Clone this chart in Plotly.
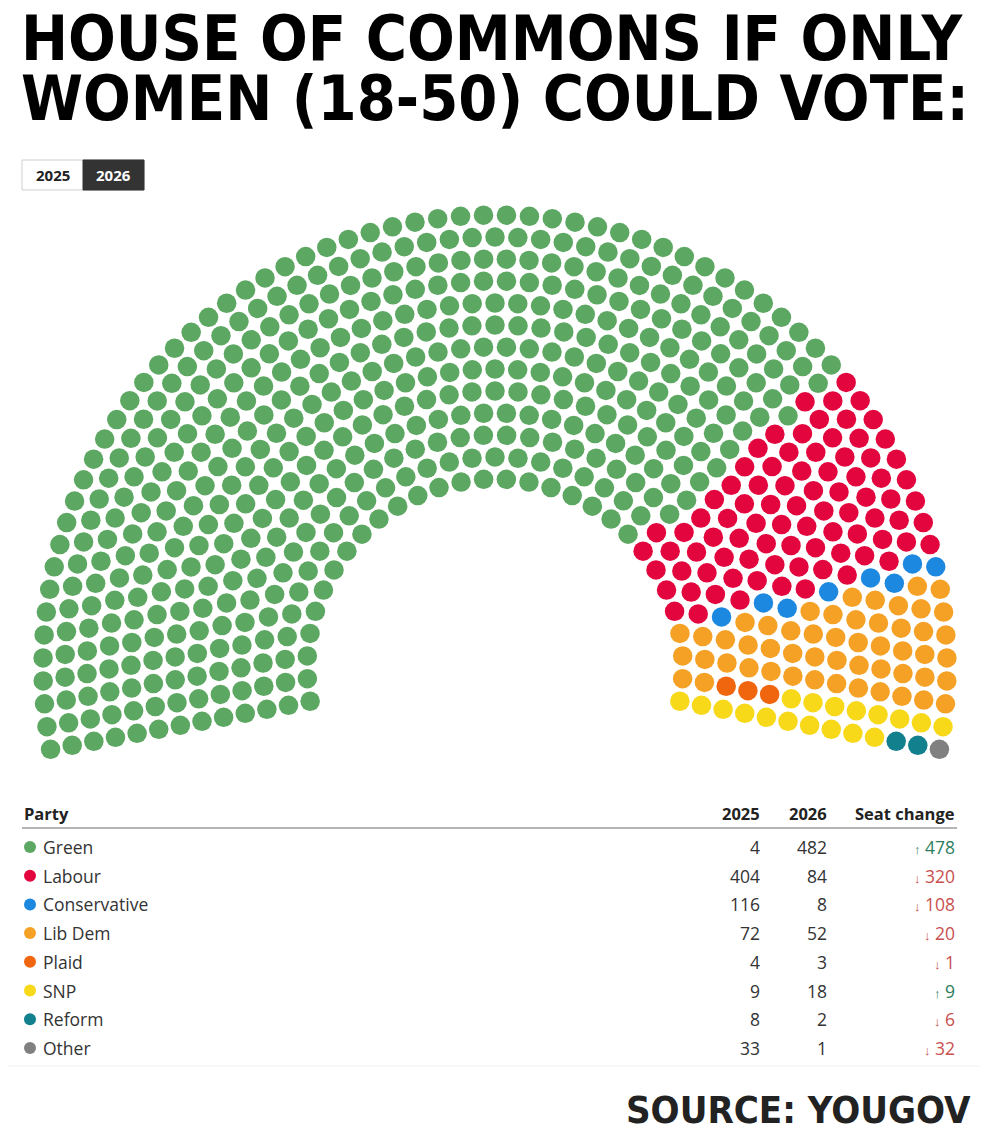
import math
import plotly.graph_objects as go

# party data (2026 drives the hemicycle)
parties = ['Green', 'Labour', 'Conservative', 'Lib Dem', 'Plaid', 'SNP', 'Reform', 'Other']
seats_2025 = [4, 404, 116, 72, 4, 9, 8, 33]
seats_2026 = [482, 84, 8, 52, 3, 18, 2, 1]
colors = ['#5ca762', '#e3053d', '#1c88e0', '#f5a126', '#f0660f', '#f7d91a', '#13808d', '#808080']
year_buttons = ['2025', '2026']

W, H = 989, 1148
OFF = 8  # page body margin

# hemicycle geometry (pixel space)
cx, cy = 495, 667
r_in, r_out, n_rows = 188, 452, 13
a_start, a_end = -10.5, 190.5


def hemicycle(total):
    radii = [r_in + i * (r_out - r_in) / (n_rows - 1) for i in range(n_rows)]
    s = sum(radii)
    counts = [round(total * r / s) for r in radii]
    counts[-1] -= 1
    counts[0] += total - sum(counts)
    seats = []
    for r, n in zip(radii, counts):
        step = (a_end - a_start) / (n - 1)
        for j in range(n):
            seats.append((a_start + j * step, r))
    seats.sort(key=lambda t: (t[0], -t[1]))
    return seats


seats = hemicycle(sum(seats_2026))

# fill from the right-hand end of the arc: Other first, Green last
xs, ys, cols = [], [], []
k = 0
for p in reversed(range(len(parties))):
    for _ in range(seats_2026[p]):
        a, r = seats[k]
        xs.append(cx + r * math.cos(math.radians(a)))
        ys.append(cy - r * math.sin(math.radians(a)))
        cols.append(colors[p])
        k += 1

fig = go.Figure()
fig.add_trace(go.Scatter(x=xs, y=ys, mode='markers', hoverinfo='skip',
                         marker=dict(size=19.5, color=cols, line=dict(width=0))))

# table
row_y = [847 + i * 28.7 for i in range(len(parties))]
fig.add_trace(go.Scatter(x=[30] * len(parties), y=row_y, mode='markers', hoverinfo='skip',
                         marker=dict(size=12, color=colors, line=dict(width=0))))

body_font = 'Open Sans, Noto Sans, sans-serif'
title_font = 'DejaVu Sans Condensed, DejaVu Sans, sans-serif'

ann = []
ann.append(dict(x=19, y=38, text='HOUSE OF COMMONS IF ONLY', xanchor='left', yanchor='middle',
                font=dict(family=title_font, size=62.5, color='#000', weight=900)))
ann.append(dict(x=19, y=98, text='WOMEN (18-50) COULD VOTE:', xanchor='left', yanchor='middle',
                font=dict(family=title_font, size=62.5, color='#000', weight=900)))
ann.append(dict(x=973, y=1110, text='SOURCE: YOUGOV', xanchor='right', yanchor='middle',
                font=dict(family=title_font, size=38, color='#222', weight=900)))

# year toggle
ann.append(dict(x=52.5, y=175, text=year_buttons[0], xanchor='center', yanchor='middle',
                font=dict(family=body_font, size=15, color='#222', weight=700)))
ann.append(dict(x=113.5, y=175, text=year_buttons[1], xanchor='center', yanchor='middle',
                font=dict(family=body_font, size=15, color='#fff', weight=700)))

hdr = dict(family=body_font, size=16.5, color='#222', weight=700)
ann.append(dict(x=22, y=813, text='Party', xanchor='left', yanchor='middle', font=hdr))
ann.append(dict(x=762, y=813, text='2025', xanchor='right', yanchor='middle', font=hdr))
ann.append(dict(x=829, y=813, text='2026', xanchor='right', yanchor='middle', font=hdr))
ann.append(dict(x=957, y=813, text='Seat change', xanchor='right', yanchor='middle', font=hdr))

cell = dict(family=body_font, size=17.5, color='#333')
for i, name in enumerate(parties):
    y = row_y[i]
    ann.append(dict(x=41, y=y, text=name, xanchor='left', yanchor='middle', font=cell))
    ann.append(dict(x=762, y=y, text=str(seats_2025[i]), xanchor='right', yanchor='middle', font=cell))
    ann.append(dict(x=829, y=y, text=str(seats_2026[i]), xanchor='right', yanchor='middle', font=cell))
    d = seats_2026[i] - seats_2025[i]
    arrow, c = ('↑', '#2e7d5e') if d > 0 else ('↓', '#c8504f')
    ann.append(dict(x=957, y=y, text=f'<span style="font-size:13px">{arrow}</span> {abs(d)}',
                    xanchor='right', yanchor='middle',
                    font=dict(family=body_font, size=17.5, color=c)))

for a in ann:
    a.update(xref='x', yref='y', showarrow=False)

shapes = [
    dict(type='rect', x0=22, x1=144, y0=160, y1=190, line=dict(color='#cfcfcf', width=1),
         fillcolor='#fff', layer='below'),
    dict(type='rect', x0=83, x1=144, y0=160, y1=190, line=dict(color='#333', width=1),
         fillcolor='#333', layer='below'),
    dict(type='line', x0=22, x1=957, y0=828, y1=828, line=dict(color='#b5b5b5', width=2)),
    dict(type='line', x0=8, x1=980, y0=1066, y1=1066, line=dict(color='#f0f0f0', width=1)),
]

fig.update_layout(
    width=W - OFF, height=H - OFF, margin=dict(l=0, r=0, t=0, b=0),
    paper_bgcolor='#fff', plot_bgcolor='#fff', showlegend=False,
    xaxis=dict(range=[OFF, W], visible=False, fixedrange=True),
    yaxis=dict(range=[H, OFF], visible=False, fixedrange=True),
    annotations=ann, shapes=shapes,
)

fig.write_html('out.html')
